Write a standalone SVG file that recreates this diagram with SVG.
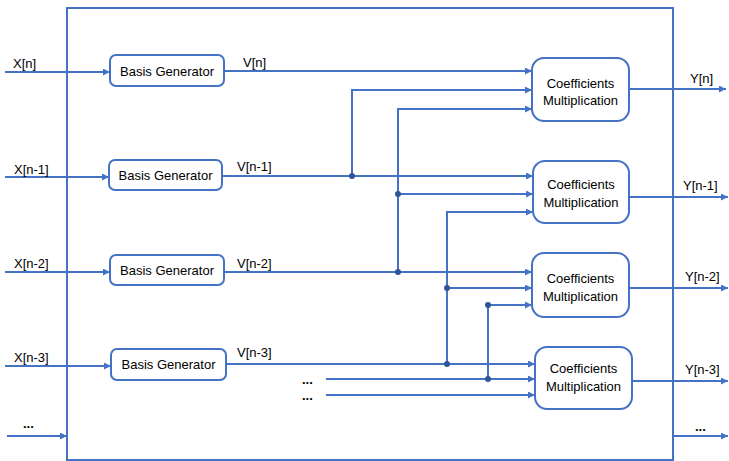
<svg xmlns="http://www.w3.org/2000/svg" width="729" height="461" viewBox="0 0 729 461">
<defs>
<marker id="ah" viewBox="0 0 10 10" refX="10" refY="5" markerWidth="7" markerHeight="7" markerUnits="userSpaceOnUse" orient="auto">
<path d="M0,0 L10,5 L0,10 z" fill="#4472C4"/>
</marker>
<style>
.ln{stroke:#4472C4;stroke-width:2;fill:none}
.ar{stroke:#4472C4;stroke-width:2;fill:none;marker-end:url(#ah)}
.bx{stroke:#4472C4;stroke-width:2;fill:#fff}
.dot{fill:#2F5597}
text{font-family:"Liberation Sans",Arial,sans-serif;font-size:13px;fill:#000}
.c{text-anchor:middle}
</style>
</defs>
<rect x="67" y="8" width="606" height="452" class="ln"/>
<g id="connectors">
<line x1="5" y1="72" x2="110" y2="72" class="ar"/>
<line x1="5" y1="177" x2="109" y2="177" class="ar"/>
<line x1="5" y1="272" x2="110" y2="272" class="ar"/>
<line x1="5" y1="366" x2="111" y2="366" class="ar"/>
<line x1="7" y1="436" x2="67" y2="436" class="ar"/>
<line x1="224" y1="71" x2="532" y2="71" class="ar"/>
<polyline points="352,176 352,90 532,90" class="ar"/>
<polyline points="398,272 398,109 532,109" class="ar"/>
<line x1="222" y1="176" x2="533" y2="176" class="ar"/>
<line x1="398" y1="194" x2="533" y2="194" class="ar"/>
<polyline points="447,364 447,212 533,212" class="ar"/>
<line x1="224" y1="272" x2="532" y2="272" class="ar"/>
<line x1="447" y1="288" x2="532" y2="288" class="ar"/>
<polyline points="488,379 488,305 532,305" class="ar"/>
<line x1="226" y1="364" x2="535" y2="364" class="ar"/>
<line x1="326" y1="379" x2="535" y2="379" class="ar"/>
<line x1="326" y1="395" x2="535" y2="395" class="ar"/>
<line x1="629" y1="89" x2="726" y2="89" class="ar"/>
<line x1="629" y1="197" x2="728" y2="197" class="ar"/>
<line x1="629" y1="288" x2="728" y2="288" class="ar"/>
<line x1="632" y1="381" x2="728" y2="381" class="ar"/>
<line x1="673" y1="436" x2="728" y2="436" class="ar"/>
<circle cx="352" cy="176" r="3" class="dot"/>
<circle cx="398" cy="194" r="3" class="dot"/>
<circle cx="398" cy="272" r="3" class="dot"/>
<circle cx="447" cy="288" r="3" class="dot"/>
<circle cx="447" cy="364" r="3" class="dot"/>
<circle cx="488" cy="305" r="3" class="dot"/>
<circle cx="488" cy="379" r="3" class="dot"/>
</g>
<g id="labels">
<text x="13" y="68">X[n]</text>
<text x="14" y="174">X[n-1]</text>
<text x="14" y="268">X[n-2]</text>
<text x="14" y="362">X[n-3]</text>
<text x="23" y="428" font-weight="bold">...</text>
<text x="243" y="67">V[n]</text>
<text x="237" y="171">V[n-1]</text>
<text x="237" y="268">V[n-2]</text>
<text x="237" y="357">V[n-3]</text>
<text x="302" y="384" font-weight="bold">...</text>
<text x="302" y="400" font-weight="bold">...</text>
<text x="690" y="83">Y[n]</text>
<text x="683" y="190">Y[n-1]</text>
<text x="685" y="281">Y[n-2]</text>
<text x="685" y="374">Y[n-3]</text>
<text x="695" y="431" font-weight="bold">...</text>
</g>
<g id="bg1"><rect x="110" y="55" width="114" height="31" rx="6" class="bx"/><text x="167" y="76" class="c">Basis Generator</text></g>
<g id="bg2"><rect x="109" y="160" width="113" height="30" rx="6" class="bx"/><text x="165.5" y="180" class="c">Basis Generator</text></g>
<g id="bg3"><rect x="110" y="255" width="114" height="30" rx="6" class="bx"/><text x="167" y="275" class="c">Basis Generator</text></g>
<g id="bg4"><rect x="111" y="349" width="115" height="31" rx="6" class="bx"/><text x="168.5" y="369" class="c">Basis Generator</text></g>
<g id="cm1"><rect x="532" y="58" width="97" height="63" rx="12" class="bx"/><text x="580.5" y="88" class="c">Coefficients</text><text x="580.5" y="105" class="c">Multiplication</text></g>
<g id="cm2"><rect x="533" y="161" width="96" height="62" rx="12" class="bx"/><text x="581" y="189" class="c">Coefficients</text><text x="581" y="207" class="c">Multiplication</text></g>
<g id="cm3"><rect x="532" y="253" width="97" height="64" rx="12" class="bx"/><text x="580.5" y="283" class="c">Coefficients</text><text x="580.5" y="301" class="c">Multiplication</text></g>
<g id="cm4"><rect x="535" y="347" width="97" height="62" rx="12" class="bx"/><text x="583.5" y="373" class="c">Coefficients</text><text x="583.5" y="391" class="c">Multiplication</text></g>
</svg>
